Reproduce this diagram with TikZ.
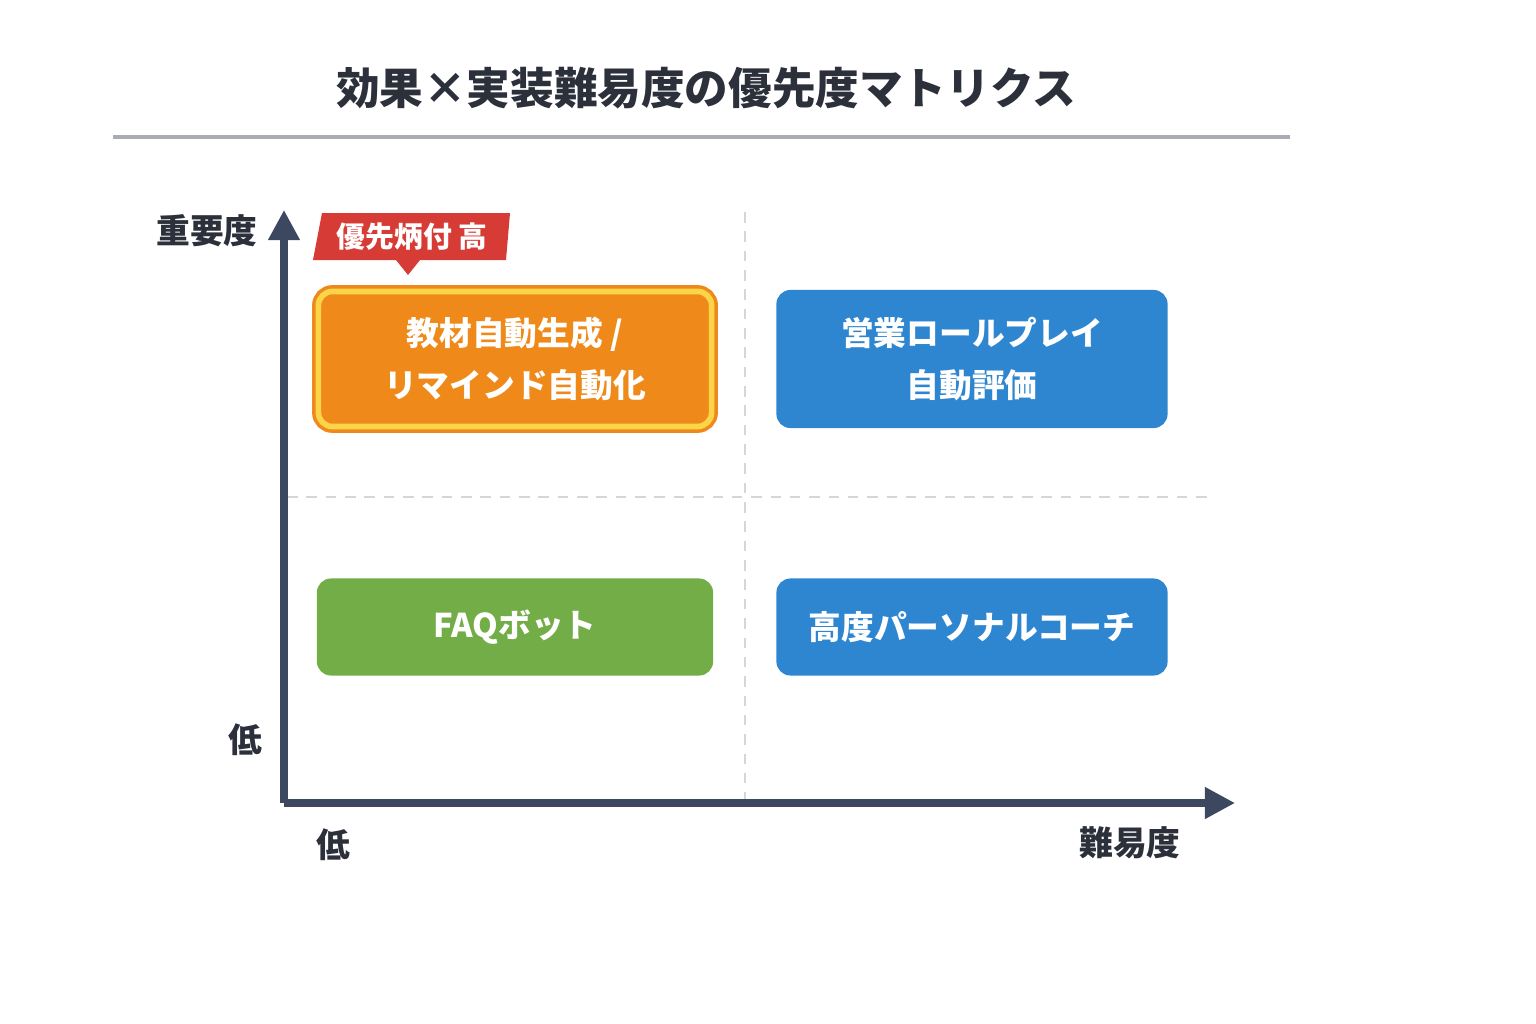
\documentclass[tikz,border=0pt]{standalone}
\usepackage{fontspec}
\setmainfont{Noto Sans CJK JP}
\usetikzlibrary{arrows.meta}
\definecolor{ink}{HTML}{2B303B}
\definecolor{axisc}{HTML}{3B4860}
\definecolor{gridc}{HTML}{D3D6DA}
\definecolor{rulec}{HTML}{A9ACB4}
\definecolor{tagred}{HTML}{D63B35}
\definecolor{orfill}{HTML}{EF8A1A}
\definecolor{oredge}{HTML}{F0891C}
\definecolor{orring}{HTML}{FBD548}
\definecolor{bluefill}{HTML}{2E86D0}
\definecolor{greenfill}{HTML}{73AD48}
\begin{document}
\begin{tikzpicture}[x=0.01cm, y=-0.01cm,
                    axis/.style={draw=axisc, line width=2pt, -{Triangle[length=0.3cm, width=0.3cm]}},
                    grid/.style={draw=gridc, line width=0.8pt, dash pattern=on 3pt off 2.5pt},
                    cell/.style={rounded corners=4pt, text=white, font=\bfseries\fontsize{9.3pt}{14pt}\selectfont, align=center, inner sep=0pt},
                    axislabel/.style={text=ink, font=\bfseries\fontsize{9.6pt}{12pt}\selectfont}]
\useasboundingbox (0,0) rectangle (1536,1024);
\fill[white] (0,0) rectangle (1536,1024);

% title
\node[text=ink, font=\bfseries\fontsize{12.4pt}{15pt}\selectfont] (title) at (706,88) {効果×実装難易度の優先度マトリクス};
\draw[draw=rulec, line width=1pt] (113,137) -- (1290,137);

% quadrants
\coordinate (vtop) at (745,212);
\coordinate (vbot) at (745,800);
\coordinate (hleft) at (287,497);
\coordinate (hright) at (1215,497);
\draw[grid] (vtop) -- (vbot);
\draw[grid] (hleft) -- (hright);

% axes
\coordinate (origin) at (284,803);
\coordinate (ytip) at (284,210);
\coordinate (xtip) at (1235,803);
\draw[axis] (origin) -- (ytip);
\draw[axis] (origin) -- (xtip);

\node[axislabel] (yname) at (207,231) {重要度};
\node[axislabel] (ylow) at (245,740) {低};
\node[axislabel] (xlow) at (333,845) {低};
\node[axislabel] (xname) at (1130,843) {難易度};

% cells
\node[cell, fill=orfill, draw=oredge, double=orring, double distance=1.6pt, line width=1pt,
      minimum width=3.93cm, minimum height=1.35cm] (gen) at (515,359) {教材自動生成 /\\[0.8pt]リマインド自動化};
\node[cell, fill=bluefill, minimum width=3.91cm, minimum height=1.38cm] (roleplay) at (972,359) {営業ロールプレイ\\[0.8pt]自動評価};
\node[cell, fill=greenfill, minimum width=3.96cm, minimum height=0.97cm] (faq) at (515,627) {FAQボット};
\node[cell, fill=bluefill, minimum width=3.91cm, minimum height=0.97cm] (coach) at (972,627) {高度パーソナルコーチ};

% tag
\fill[tagred] (322,213) -- (510,213) -- (506,260) -- (420,260) -- (408,275) -- (396,260) -- (313,260) -- cycle;
\node[text=white, font=\bfseries\fontsize{8.2pt}{10pt}\selectfont] (tag) at (412,237) {優先炳付 高};
\end{tikzpicture}
\end{document}
